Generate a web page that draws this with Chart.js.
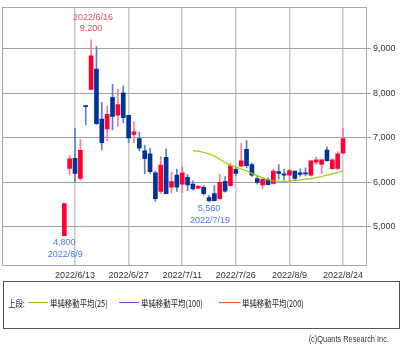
<!DOCTYPE html>
<html><head><meta charset="utf-8">
<script src="https://cdn.jsdelivr.net/npm/chart.js@4.4.0/dist/chart.umd.min.js"></script>
<style>
html,body{margin:0;padding:0;background:#fff;width:402px;height:344px;overflow:hidden;}
#wrap{position:absolute;left:0;top:0;width:402px;height:285px;}
#legend{position:absolute;left:3px;top:281px;width:397px;height:48px;border:1px solid #555;box-sizing:border-box;font-family:"Noto Sans CJK JP";font-size:9.5px;color:#222;}
.t{position:absolute;top:15px;white-space:nowrap;line-height:12px;transform:scaleX(0.78);transform-origin:0 50%}
.ln{position:absolute;top:20px;height:1px}
#copy{position:absolute;right:13px;top:333px;font:9.5px "Liberation Sans",sans-serif;color:#333;white-space:nowrap;transform:scaleX(0.78);transform-origin:100% 50%}
</style>
</head><body>
<div id="wrap"><canvas id="c" width="402" height="285"></canvas></div>
<div id="legend">
  <span class="t" style="left:4px">上段:</span>
  <span class="ln" style="left:24px;width:20px;background:#99cc00"></span>
  <span class="t" style="left:46px">単純移動平均(25)</span>
  <span class="ln" style="left:115px;width:20px;background:#9933ff"></span>
  <span class="t" style="left:137px">単純移動平均(100)</span>
  <span class="ln" style="left:215px;width:22px;background:#ff5522"></span>
  <span class="t" style="left:238px">単純移動平均(200)</span>
</div>
<div id="copy">(c)Quants Research Inc.</div>
<script>
const dates=['2022/6/9','2022/6/10','2022/6/13','2022/6/14','2022/6/15','2022/6/16','2022/6/17','2022/6/20','2022/6/21','2022/6/22','2022/6/23','2022/6/24','2022/6/27','2022/6/28','2022/6/29','2022/6/30','2022/7/1','2022/7/4','2022/7/5','2022/7/6','2022/7/7','2022/7/8','2022/7/11','2022/7/12','2022/7/13','2022/7/14','2022/7/15','2022/7/19','2022/7/20','2022/7/21','2022/7/22','2022/7/25','2022/7/26','2022/7/27','2022/7/28','2022/7/29','2022/8/1','2022/8/2','2022/8/3','2022/8/4','2022/8/5','2022/8/8','2022/8/9','2022/8/10','2022/8/12','2022/8/15','2022/8/16','2022/8/17','2022/8/18','2022/8/19','2022/8/22','2022/8/23','2022/8/24'];
const opens =[4800,6310,6540,6090,7720,8090,8545,7420,7200,7910,7510,8010,7505,7075,6980,6710,6640,6215,5795,6560,5890,6165,5960,6110,5960,5870,5890,5655,5745,5635,6020,5925,6290,6365,6740,6400,6085,5940,6070,5975,6240,6190,6160,6250,6215,6215,6160,6455,6400,6725,6305,6310,6655];
const highs =[5520,6600,7210,6960,7720,9200,9050,7800,7710,8200,8090,8170,7510,7360,7130,6835,6765,6250,6580,6755,6230,6300,6360,6180,6035,5930,5925,5710,5925,6180,6130,6430,6340,6870,6945,6435,6145,6085,6100,6290,6400,6290,6290,6255,6305,6325,6490,6580,6510,6800,6530,6690,7220];
const lows  =[4800,6160,6010,6040,7290,8080,7300,6730,6930,7180,7260,7340,6890,6890,6710,6195,6200,5575,5745,5740,5760,5795,5765,5815,5830,5850,5710,5560,5575,5620,5780,5920,6145,6360,6325,6130,5960,5850,5940,5960,6070,6055,6010,6055,6130,6145,6130,6400,6195,6470,6290,6290,6650];
const closes=[5520,6530,6200,6720,7700,8840,7320,6890,7530,7480,7745,7450,7000,7135,6765,6530,6240,5635,6385,5745,6015,5890,6215,5940,5850,5910,5745,5585,5585,6000,5800,6375,6200,6485,6375,6160,6000,6070,5945,6250,6200,6160,6265,6085,6175,6190,6485,6505,6505,6485,6505,6640,6980];
// 25-day simple moving average; starts at index 24 (2022/7/13)
const ma25Start=24;
const ma25=[6710,6700,6670,6640,6590,6520,6450,6380,6340,6300,6260,6200,6150,6100,6060,6035,6025,6020,6030,6045,6055,6070,6085,6105,6130,6160,6190,6220,6260];
const yTicks=[5000,6000,7000,8000,9000];
const xTickIdx=[2,12,22,32,42,52];
const noteIdx=[5,0,27];
const noteKind=['high','low','low'];
const noteLines=[['2022/6/16','9,200'],['4,800','2022/6/9'],['5,560','2022/7/19']];

const FONT='"Liberation Sans",sans-serif';
const up=dates.map((d,i)=>closes[i]>=opens[i]);
const bodyCol=up.map(u=>u?'#ff0033':'#003399');
const wickCol=up.map(u=>u?'#ff7a96':'#5f7fc8');

const frame={id:'frame',afterDatasetsDraw(ch){const a=ch.chartArea,c=ch.ctx;c.save();c.strokeStyle='#a8a8a8';c.lineWidth=1;c.strokeRect(Math.round(a.left)+0.5,Math.round(a.top)+0.5,Math.round(a.right-a.left)-1,Math.round(a.bottom-a.top)-1);c.restore();}};
const notes={id:'notes',afterDatasetsDraw(ch){const c=ch.ctx,xs=ch.scales.x,ys=ch.scales.y;c.save();c.font='9px '+FONT;c.textAlign='center';c.textBaseline='middle';
 noteIdx.forEach((i,k)=>{const x=xs.getPixelForValue(i);
  if(noteKind[k]==='high'){const y=ys.getPixelForValue(highs[i]);c.fillStyle='#e0505f';c.fillText(noteLines[k][0],x+2,y-22);c.fillText(noteLines[k][1],x,y-11);}
  else{const y=ys.getPixelForValue(lows[i]);c.fillStyle='#4a7ae6';c.fillText(noteLines[k][0],x,y+7);c.fillText(noteLines[k][1],x+1,y+19);}
 });c.restore();}};

new Chart(document.getElementById('c'),{
 type:'bar',
 data:{datasets:[
  {type:'line',data:ma25.map((v,k)=>({x:ma25Start+k,y:v})),borderColor:'#99cc00',borderWidth:1.2,pointRadius:0,tension:0,order:0},
  {data:dates.map((d,i)=>({x:i,y:[opens[i],closes[i]]})),backgroundColor:bodyCol,barThickness:4,minBarLength:1,grouped:false,borderWidth:0,order:1},
  {data:dates.map((d,i)=>({x:i,y:[lows[i],highs[i]]})),backgroundColor:wickCol,barThickness:1,grouped:false,borderWidth:0,order:2}
 ]},
 options:{
  responsive:false,devicePixelRatio:1,animation:false,
  layout:{padding:{left:2,top:0,right:0,bottom:0}},
  plugins:{legend:{display:false},tooltip:{enabled:false}},
  scales:{
   x:{type:'linear',min:-11.62,max:56.47,offset:false,
      grid:{offset:false,color:'#c8c8c8',lineWidth:1.5,drawTicks:false},border:{display:false},
      afterBuildTicks:s=>{s.ticks=xTickIdx.map(v=>({value:v}));},
      afterFit:s=>{s.height=19;},
      ticks:{autoSkip:false,maxRotation:0,padding:4,color:'#333',font:{size:9,family:FONT},callback:v=>dates[v]}},
   y:{type:'linear',position:'right',min:4120,max:9930,
      grid:{color:'#a0a0a0',lineWidth:1,drawTicks:true,tickLength:4},border:{display:false},
      afterBuildTicks:s=>{s.ticks=yTicks.map(v=>({value:v}));},
      afterFit:s=>{s.width=35;},
      ticks:{padding:2,color:'#333',font:{size:9,family:FONT},callback:v=>v.toLocaleString('en-US')}}
  }
 },
 plugins:[frame,notes]
});
</script>
</body></html>
